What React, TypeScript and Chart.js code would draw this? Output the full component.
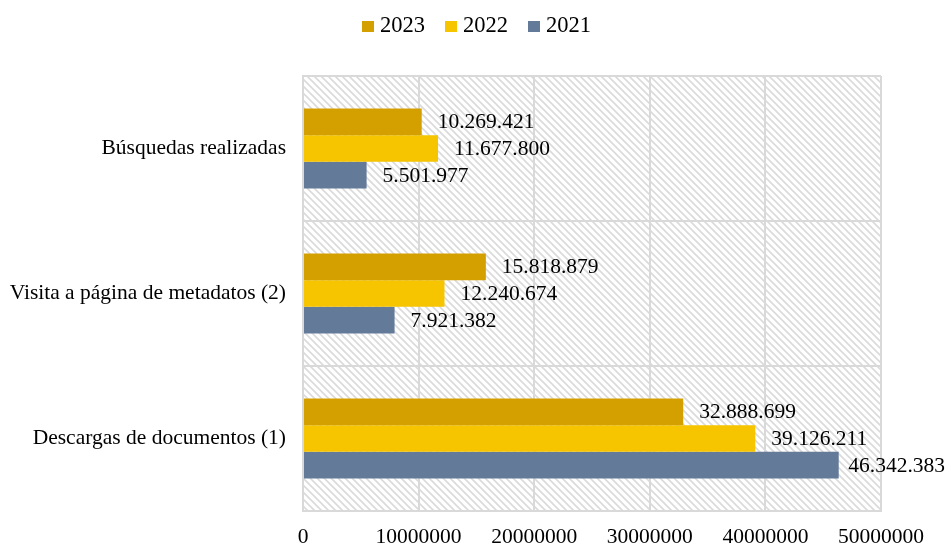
import React, { useEffect, useRef } from 'react';
import { Chart, registerables } from 'chart.js';

Chart.register(...registerables);

const categories = ['Búsquedas realizadas', 'Visita a página de metadatos (2)', 'Descargas de documentos (1)'];
const seriesNames = ['2023', '2022', '2021'];
const values2023 = [10269421, 15818879, 32888699];
const values2022 = [11677800, 12240674, 39126211];
const values2021 = [5501977, 7921382, 46342383];
const seriesColors = ['#D4A000', '#F6C500', '#647A99'];
const xTicks = [0, 10000000, 20000000, 30000000, 40000000, 50000000];

const FONT_FAMILY = '"Liberation Serif", "Times New Roman", serif';
const GRID = '#d9d9d9';
const FONT_SIZE = 21.5;
const LEGEND_FONT_SIZE = 22.5;

const fmt = (v: number) => v.toString().replace(/\B(?=(\d{3})+(?!\d))/g, '.');

const hatchPlugin = {
  id: 'hatch',
  beforeDraw(chart: any) {
    const { ctx, chartArea } = chart;
    if (!chartArea) return;
    const { left, top, right, bottom } = chartArea;
    const s = 7;
    const tile = document.createElement('canvas');
    tile.width = s;
    tile.height = s;
    const t = tile.getContext('2d')!;
    t.fillStyle = '#ffffff';
    t.fillRect(0, 0, s, s);
    t.strokeStyle = '#dadada';
    t.lineWidth = 1.6;
    t.beginPath();
    t.moveTo(-2, -2);
    t.lineTo(s + 2, s + 2);
    t.moveTo(-2, s - 2);
    t.lineTo(2, s + 2);
    t.moveTo(s - 2, -2);
    t.lineTo(s + 2, 2);
    t.stroke();
    const pat = ctx.createPattern(tile, 'repeat');
    ctx.save();
    ctx.fillStyle = pat;
    ctx.fillRect(left, top, right - left, bottom - top);
    ctx.restore();
  },
};

const dataLabelPlugin = {
  id: 'dataLabels',
  afterDatasetsDraw(chart: any) {
    const ctx = chart.ctx;
    ctx.save();
    ctx.font = `${FONT_SIZE}px ${FONT_FAMILY}`;
    ctx.fillStyle = '#000';
    ctx.textBaseline = 'middle';
    ctx.textAlign = 'left';
    chart.data.datasets.forEach((ds: any, i: number) => {
      const meta = chart.getDatasetMeta(i);
      meta.data.forEach((bar: any, j: number) => {
        const txt = fmt(ds.data[j]);
        const w = ctx.measureText(txt).width;
        let x = bar.x + 16;
        if (x + w > chart.width) x = chart.width - w;
        ctx.fillText(txt, x, bar.y + 1);
      });
    });
    ctx.restore();
  },
};

const legendPlugin = {
  id: 'customLegend',
  afterDraw(chart: any) {
    const ctx = chart.ctx;
    ctx.save();
    ctx.font = `${LEGEND_FONT_SIZE}px ${FONT_FAMILY}`;
    ctx.textBaseline = 'middle';
    ctx.textAlign = 'left';
    const box = 12;
    const gap = 6;
    const spacing = 20;
    const items = chart.data.datasets.map((ds: any) => ({
      text: ds.label,
      color: ds.backgroundColor,
      w: ctx.measureText(ds.label).width,
    }));
    const total = items.reduce((a: number, it: any) => a + box + gap + it.w, 0) + spacing * (items.length - 1);
    let x = chart.width / 2 + 4 - total / 2;
    const cy = 26;
    items.forEach((it: any) => {
      ctx.fillStyle = it.color;
      ctx.fillRect(x, cy - 5, box, 11);
      ctx.fillStyle = '#000';
      ctx.fillText(it.text, x + box + gap, cy);
      x += box + gap + it.w + spacing;
    });
    ctx.restore();
  },
};

export default function App() {
  const ref = useRef<HTMLCanvasElement | null>(null);

  useEffect(() => {
    if (!ref.current) return;
    const font = { family: FONT_FAMILY, size: FONT_SIZE };
    const chart = new Chart(ref.current, {
      type: 'bar',
      data: {
        labels: categories,
        datasets: [
          { label: seriesNames[0], data: values2023, backgroundColor: seriesColors[0] },
          { label: seriesNames[1], data: values2022, backgroundColor: seriesColors[1] },
          { label: seriesNames[2], data: values2021, backgroundColor: seriesColors[2] },
        ],
      },
      options: {
        indexAxis: 'y',
        animation: false,
        responsive: true,
        maintainAspectRatio: false,
        datasets: { bar: { categoryPercentage: 0.552, barPercentage: 1.0 } },
        layout: { padding: { left: 0, right: 64, top: 76, bottom: 0 } },
        plugins: {
          legend: { display: false },
          tooltip: { enabled: false },
        },
        scales: {
          x: {
            min: 0,
            max: 50000000,
            afterBuildTicks: (scale: any) => {
              scale.ticks = xTicks.map((v) => ({ value: v }));
            },
            afterFit: (scale: any) => {
              scale.height = 34;
            },
            grid: { color: GRID, lineWidth: 2, drawTicks: false },
            border: { color: GRID, width: 2 },
            ticks: {
              font,
              color: '#000',
              padding: 13,
              maxRotation: 0,
              autoSkip: false,
              callback: (v: any) => String(v),
            },
          },
          y: {
            afterFit: (scale: any) => {
              scale.width = 303;
            },
            grid: { color: GRID, lineWidth: 2, drawTicks: false, offset: true },
            border: { color: GRID, width: 2 },
            ticks: { font, color: '#000', padding: 17 },
          },
        },
      },
      plugins: [hatchPlugin, dataLabelPlugin, legendPlugin],
    });
    return () => chart.destroy();
  }, []);

  return (
    <div style={{ position: 'fixed', left: 0, top: 0, width: 945, height: 545, background: '#fff' }}>
      <canvas ref={ref} />
    </div>
  );
}
